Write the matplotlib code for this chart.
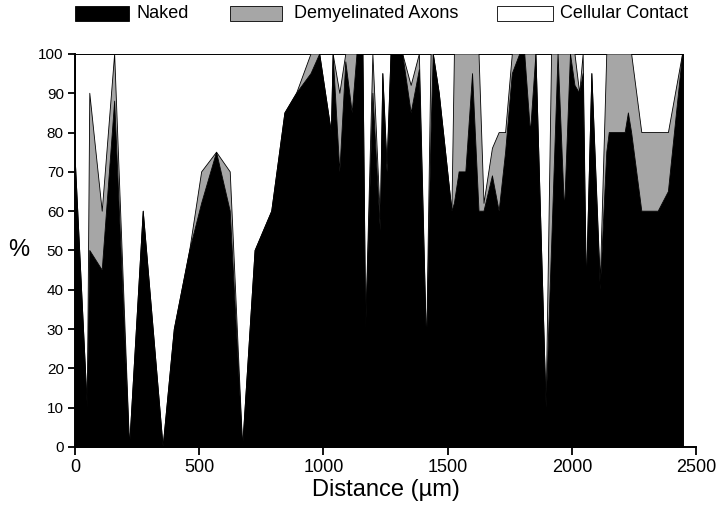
import matplotlib
matplotlib.use("Agg")
import matplotlib.pyplot as plt
from matplotlib.patches import Rectangle
import numpy as np

plt.rcParams['font.family'] = ['Liberation Sans', 'DejaVu Sans']

# Distance along fibre (µm)
distance = [0, 50, 60, 110, 160, 220, 275, 355, 400, 462, 510, 570, 625, 675,
            725, 792, 845, 892, 950, 985, 1032, 1039, 1066, 1090, 1116, 1135,
            1159, 1170, 1199, 1229, 1239, 1256, 1272, 1319, 1353, 1386, 1415,
            1433, 1442, 1466, 1517, 1527, 1546, 1573, 1600, 1626, 1646, 1680,
            1707, 1733, 1760, 1790, 1810, 1833, 1855, 1896, 1918, 1944, 1970,
            1994, 2012, 2031, 2045, 2058, 2080, 2114, 2140, 2150, 2214, 2227,
            2240, 2281, 2347, 2388, 2445]
# Naked (%)
naked = [75, 10, 50, 45, 88, 0, 60, 0, 30, 50, 62, 75, 60, 0,
         50, 60, 85, 90, 95, 100, 80, 100, 70, 98, 85, 100,
         100, 30, 90, 55, 95, 70, 100, 100, 85, 96, 25,
         80, 100, 90, 60, 62, 70, 70, 95, 60, 60, 69,
         60, 75, 95, 100, 100, 80, 100, 10, 51, 100, 60,
         100, 92, 90, 95, 40, 95, 40, 75, 80, 80, 85,
         80, 60, 60, 65, 100]
# Naked + demyelinated axons (cumulative %)
naked_plus_demyelinated = [75, 10, 90, 60, 100, 0, 60, 0, 30, 50, 70, 75, 70, 0,
                           50, 60, 85, 90, 100, 100, 80, 100, 90, 100, 100, 100,
                           100, 30, 100, 58, 95, 72, 100, 100, 92, 100, 25,
                           100, 100, 90, 60, 100, 100, 100, 100, 100, 62, 76,
                           80, 80, 100, 100, 100, 100, 100, 10, 100, 100, 100,
                           100, 100, 90, 100, 40, 95, 42, 100, 100, 100, 100,
                           100, 80, 80, 80, 100]

legend_labels = ["Naked", "Demyelinated Axons", "Cellular Contact"]
x_ticks = [0, 500, 1000, 1500, 2000, 2500]
y_ticks = list(range(0, 101, 10))

GRAY = '#a6a6a6'

fig = plt.figure(figsize=(7.2, 5.17), dpi=100)
ax = fig.add_axes([0.104, 0.1354, 0.863, 0.7602])

x = np.array(distance)
n = np.array(naked)
t = np.array(naked_plus_demyelinated)

# cellular contact (white) with outline to 100
ax.fill_between(x, 0, 100, facecolor='white', edgecolor='black', linewidth=1.4, zorder=1)
ax.fill_between(x, n, t, facecolor=GRAY, edgecolor='none', linewidth=0, zorder=2)
ax.fill_between(x, 0, n, facecolor='black', edgecolor='none', linewidth=0, zorder=3)
ax.plot(x, t, color='black', linewidth=0.6, zorder=4)
ax.plot(x, n, color='black', linewidth=0.6, zorder=4)

ax.set_xlim(0, 2500)
ax.set_ylim(0, 100)
ax.set_xticks(x_ticks)
ax.set_yticks(y_ticks)
ax.tick_params(axis='x', direction='out', length=6, width=1.3, labelsize=13, pad=3)
ax.tick_params(axis='y', direction='out', length=5, width=1.3, labelsize=11, pad=3)
for s in ['top', 'right']:
    ax.spines[s].set_visible(False)
for s in ['left', 'bottom']:
    ax.spines[s].set_linewidth(1.4)

ax.set_xlabel("Distance (µm)", fontsize=17, labelpad=2)
ax.set_ylabel("%", fontsize=17, rotation=0, labelpad=14, va='center')

# legend drawn in figure pixel coordinates
W, H = 720, 517
def box(x0, x1, y0, y1, fc):
    fig.add_artist(Rectangle((x0 / W, 1 - y1 / H), (x1 - x0) / W, (y1 - y0) / H,
                             transform=fig.transFigure, facecolor=fc,
                             edgecolor='black' if fc != 'black' else 'black',
                             linewidth=0.6))
box(75, 129, 6, 21, 'black')
box(230, 282, 6, 21, GRAY)
box(497, 553, 6, 21, 'white')
for xt, lab in zip([137, 294, 560], legend_labels):
    fig.text(xt / W, 1 - 14 / H, lab, fontsize=13, va='center', ha='left')

fig.savefig("out.png", dpi=100)
